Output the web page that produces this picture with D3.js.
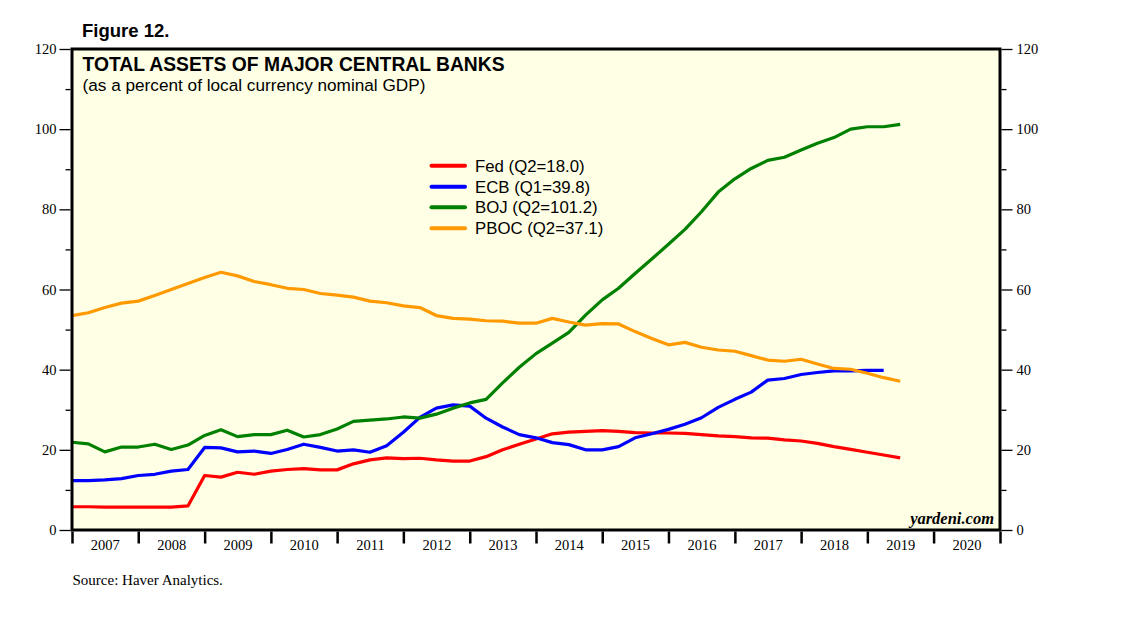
<!DOCTYPE html>
<html>
<head>
<meta charset="utf-8">
<script src="https://cdn.jsdelivr.net/npm/d3@7"></script>
<style>
  html, body { margin: 0; padding: 0; background: #ffffff; }
  svg { display: block; }
</style>
</head>
<body>
<svg id="chart" width="1138" height="621"></svg>
<script>
// ---------------- DATA ----------------
const quarters = [
  "2006Q4",
  "2007Q1","2007Q2","2007Q3","2007Q4",
  "2008Q1","2008Q2","2008Q3","2008Q4",
  "2009Q1","2009Q2","2009Q3","2009Q4",
  "2010Q1","2010Q2","2010Q3","2010Q4",
  "2011Q1","2011Q2","2011Q3","2011Q4",
  "2012Q1","2012Q2","2012Q3","2012Q4",
  "2013Q1","2013Q2","2013Q3","2013Q4",
  "2014Q1","2014Q2","2014Q3","2014Q4",
  "2015Q1","2015Q2","2015Q3","2015Q4",
  "2016Q1","2016Q2","2016Q3","2016Q4",
  "2017Q1","2017Q2","2017Q3","2017Q4",
  "2018Q1","2018Q2","2018Q3","2018Q4",
  "2019Q1","2019Q2"
];

const fed = [
  5.8, 5.8, 5.7, 5.7, 5.7, 5.7, 5.7, 6.0,
  13.6, 13.2, 14.4, 13.9, 14.7, 15.1, 15.3, 15.0, 15.0, 16.5,
  17.5, 18.0, 17.8, 17.9, 17.5, 17.2, 17.2, 18.3, 20.0, 21.4, 22.7, 24.0, 24.4, 24.6, 24.8, 24.6, 24.3,
  24.2, 24.2, 24.1, 23.8, 23.5, 23.3, 23.0, 22.9, 22.5, 22.2, 21.6, 20.8, 20.1, 19.4, 18.7, 18.0
];

const ecb = [
  12.3, 12.3, 12.5, 12.8, 13.6, 13.9, 14.7, 15.1,
  20.6, 20.5, 19.5, 19.7, 19.1, 20.1, 21.4, 20.6, 19.7, 20.0, 19.4, 21.0,
  24.4, 28.1, 30.4, 31.2, 30.9, 27.9, 25.7, 23.8, 23.0, 21.8, 21.3, 20.0, 20.0, 20.8, 23.0,
  24.0, 25.1, 26.4, 28.0, 30.6, 32.6, 34.4, 37.4, 37.8, 38.8, 39.3, 39.7, 39.7, 39.8, 39.8
];

const boj = [
  21.9, 21.5, 19.5, 20.7, 20.7, 21.4, 20.1, 21.2, 23.6, 25.0, 23.3, 23.8, 23.8, 24.9,
  23.2, 23.8, 25.2, 27.1, 27.4, 27.7, 28.2, 27.9, 28.9, 30.4, 31.7, 32.6, 36.7, 40.6,
  44.0, 46.6, 49.3, 53.6, 57.4, 60.3, 64.0, 67.6, 71.3, 75.0, 79.4, 84.3, 87.6, 90.2,
  92.2, 93.0, 94.8, 96.5, 97.9, 100.0, 100.6, 100.6, 101.2
];

const pboc = [
  53.5, 54.2, 55.5, 56.6, 57.1, 58.5, 60.0, 61.5, 63.0, 64.3, 63.4, 62.0, 61.2, 60.3, 60.0,
  59.0, 58.6, 58.1, 57.1, 56.7, 55.9, 55.5, 53.5, 52.8, 52.6, 52.2, 52.1, 51.6, 51.6,
  52.8, 51.9, 51.1, 51.5, 51.4, 49.5, 47.8, 46.2, 46.8, 45.6, 44.9, 44.6, 43.5, 42.4, 42.1,
  42.6, 41.4, 40.3, 40.1, 39.1, 38.0, 37.1
];

const seriesNames = ["Fed (Q2=18.0)", "ECB (Q1=39.8)", "BOJ (Q2=101.2)", "PBOC (Q2=37.1)"];
const seriesColors = ["#ff0000", "#0000ff", "#008000", "#ff9900"];
const yearLabels = ["2007","2008","2009","2010","2011","2012","2013","2014","2015","2016","2017","2018","2019","2020"];
const yMajorTicks = [0, 20, 40, 60, 80, 100, 120];
const yMinorTicks = [10, 30, 50, 70, 90, 110];

// ---------------- LAYOUT ----------------
const L = 72, R = 1000, T = 49, B = 530;
const svg = d3.select("#chart");

// quarter label -> quarter-end date (start of next quarter)
function qEnd(q) {
  const yr = +q.slice(0, 4), qn = +q.slice(5);
  return new Date(yr, qn * 3, 1);
}

const x = d3.scaleTime()
  .domain([new Date(2007, 0, 1), new Date(2021, 0, 1)])
  .range([L, R]);
const y = d3.scaleLinear().domain([0, 120]).range([B, T]);

const serif = "'Liberation Serif', 'Times New Roman', Times, serif";
const sans = "'Liberation Sans', Arial, Helvetica, sans-serif";

// plot background
svg.append("rect")
  .attr("x", L).attr("y", T).attr("width", R - L).attr("height", B - T)
  .attr("fill", "#ffffe5");

// lines
const allSeries = [fed, ecb, boj, pboc];
const line = d3.line()
  .x((d, i) => x(qEnd(quarters[i])))
  .y(d => y(d));

allSeries.forEach((vals, k) => {
  svg.append("path")
    .datum(vals)
    .attr("fill", "none")
    .attr("stroke", seriesColors[k])
    .attr("stroke-width", 3.2)
    .attr("stroke-linejoin", "round")
    .attr("d", line);
});

// frame
svg.append("rect")
  .attr("x", L).attr("y", T).attr("width", R - L).attr("height", B - T)
  .attr("fill", "none").attr("stroke", "#000").attr("stroke-width", 3);

// y axes
function styleAxis(g) {
  g.select(".domain").remove();
  g.selectAll("line").attr("stroke", "#000").attr("stroke-width", 1.3);
  g.selectAll("text").attr("font-family", serif).attr("font-size", 14.5).attr("fill", "#000");
}
svg.append("g").attr("transform", `translate(${L - 1.5},0)`)
  .call(d3.axisLeft(y).tickValues(yMajorTicks).tickSize(11).tickPadding(3).tickFormat(d3.format("d")))
  .call(styleAxis);
svg.append("g").attr("transform", `translate(${L - 1.5},0)`)
  .call(d3.axisLeft(y).tickValues(yMinorTicks).tickSize(5).tickFormat(""))
  .call(styleAxis);
svg.append("g").attr("transform", `translate(${R + 1.5},0)`)
  .call(d3.axisRight(y).tickValues(yMajorTicks).tickSize(11).tickPadding(4).tickFormat(d3.format("d")))
  .call(styleAxis);
svg.append("g").attr("transform", `translate(${R + 1.5},0)`)
  .call(d3.axisRight(y).tickValues(yMinorTicks).tickSize(5).tickFormat(""))
  .call(styleAxis);

// x axis: year boundary ticks
const yearBounds = yearLabels.map(s => new Date(+s, 0, 1)).concat([new Date(2021, 0, 1)]);
const xg = svg.append("g").attr("transform", `translate(0,${B + 1.5})`)
  .call(d3.axisBottom(x).tickValues(yearBounds).tickSize(12).tickFormat(""));
xg.select(".domain").remove();
xg.selectAll("line").attr("stroke", "#000").attr("stroke-width", 2.5);

// x axis: year labels at mid-year
const xl = svg.append("g").attr("transform", `translate(0,${B})`)
  .call(d3.axisBottom(x).tickValues(yearLabels.map(s => new Date(+s, 6, 1)))
    .tickSize(0).tickPadding(0).tickFormat((d, i) => yearLabels[i]));
xl.select(".domain").remove();
xl.selectAll("text")
  .attr("font-family", serif).attr("font-size", 14.5).attr("fill", "#000")
  .attr("dy", null).attr("y", 19.5);

// titles
svg.append("text").attr("x", 82).attr("y", 36.5)
  .attr("font-family", sans).attr("font-weight", "bold").attr("font-size", 18.5)
  .text("Figure 12.");
svg.append("text").attr("x", 82.5).attr("y", 70.7)
  .attr("font-family", sans).attr("font-weight", "bold").attr("font-size", 19.3)
  .text("TOTAL ASSETS OF MAJOR CENTRAL BANKS");
svg.append("text").attr("x", 82.5).attr("y", 90.5)
  .attr("font-family", sans).attr("font-size", 17.2)
  .text("(as a percent of local currency nominal GDP)");

// legend
const legY = [165.7, 186.7, 207.3, 228.3];
seriesNames.forEach((name, k) => {
  svg.append("line")
    .attr("x1", 431.5).attr("x2", 465).attr("y1", legY[k]).attr("y2", legY[k])
    .attr("stroke", seriesColors[k]).attr("stroke-width", 4).attr("stroke-linecap", "round");
  svg.append("text").attr("x", 475).attr("y", legY[k] + 6)
    .attr("font-family", sans).attr("font-size", 16.8).attr("fill", "#000")
    .text(name);
});

// watermark
svg.append("text").attr("x", 994).attr("y", 524)
  .attr("text-anchor", "end")
  .attr("font-family", serif).attr("font-style", "italic").attr("font-weight", "bold")
  .attr("font-size", 16.5)
  .text("yardeni.com");

// source
svg.append("text").attr("x", 72.5).attr("y", 585)
  .attr("font-family", serif).attr("font-size", 15)
  .text("Source: Haver Analytics.");
</script>
</body>
</html>
